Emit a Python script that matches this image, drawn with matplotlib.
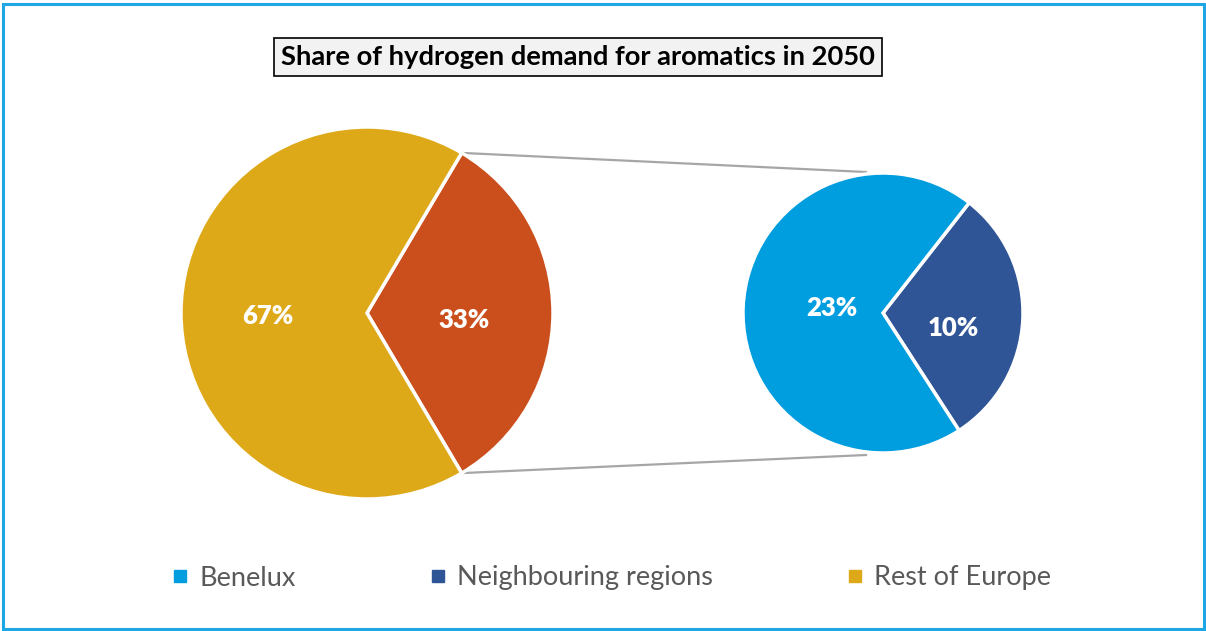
import matplotlib
matplotlib.use("Agg")
import matplotlib.pyplot as plt
from matplotlib.patches import Rectangle
from matplotlib.lines import Line2D
import numpy as np

# Data
main_labels = ["Rest of Europe", "Benelux + Neighbouring regions"]
main_values = [67, 33]
sub_labels = ["Benelux", "Neighbouring regions"]
sub_values = [23, 10]
legend_labels = ["Benelux", "Neighbouring regions", "Rest of Europe"]
title = "Share of hydrogen demand for aromatics in 2050"

c_rest = "#DEA918"
c_split = "#CB4F1D"
c_benelux = "#009DDF"
c_neigh = "#2F5597"

W, H = 1206, 631
fig = plt.figure(figsize=(W / 100, H / 100), dpi=100)
ax = fig.add_axes([0, 0, 1, 1])

font = "Lato"

# Outer frame
fig.patches.append(Rectangle((2.5 / W, 2.5 / H), (W - 5) / W, (H - 6) / H,
                             transform=fig.transFigure, fill=False,
                             edgecolor="#1EA7E4", linewidth=2.2))

# Main pie (y axis is inverted below, so angles appear mirrored)
main_c = (367, 313)
main_r = 186
share = main_values[1] / sum(main_values) * 360
ax.pie(
    [main_values[1], main_values[0]], colors=[c_split, c_rest],
    center=main_c, radius=main_r, startangle=-share / 2, counterclock=True,
    wedgeprops=dict(edgecolor="white", linewidth=2.5), frame=True,
)
# Breakdown pie
sub_c = (883, 313)
sub_r = 140
ax.pie(
    [sub_values[1], sub_values[0]], colors=[c_neigh, c_benelux],
    center=sub_c, radius=sub_r, startangle=-52, counterclock=True,
    wedgeprops=dict(edgecolor="white", linewidth=2.5), frame=True,
)
ax.set_xlim(0, W)
ax.set_ylim(H, 0)
ax.axis("off")

# Connector lines from the split slice to the breakdown pie
a = np.deg2rad(share / 2)
p_top = (main_c[0] + main_r * np.cos(a), main_c[1] - main_r * np.sin(a))
p_bot = (main_c[0] + main_r * np.cos(a), main_c[1] + main_r * np.sin(a))
ax.plot([p_top[0], 866], [p_top[1], 172], color="#A6A6A6", lw=1.6, zorder=0)
ax.plot([p_bot[0], 866], [p_bot[1], 455], color="#A6A6A6", lw=1.6, zorder=0)

lab = dict(color="white", fontsize=18.5, fontweight="heavy", family=font,
           ha="center", va="center")
ax.text(268, 316, f"{main_values[0]}%", **lab)
ax.text(464, 320, f"{main_values[1]}%", **lab)
ax.text(832, 308, f"{sub_values[0]}%", **lab)
ax.text(953, 328, f"{sub_values[1]}%", **lab)

# Title box
ax.text(578, 57, title, fontsize=19.7, fontweight="bold", family=font,
        color="black", ha="center", va="center",
        bbox=dict(boxstyle="square,pad=0.25", facecolor="#F2F2F2",
                  edgecolor="black", linewidth=1.2))

handles = [Line2D([], [], marker="s", linestyle="none", markersize=8, color=c)
           for c in [c_benelux, c_neigh, c_rest]]
fig.legend(handles, legend_labels, ncol=3, loc="center",
           bbox_to_anchor=(611 / W, 1 - 578 / H), frameon=False,
           prop=dict(family=font, size=19.5), labelcolor="#595959",
           columnspacing=4.9, handletextpad=0.35, handlelength=0.7)

fig.savefig("out.png", dpi=100, facecolor="white")
